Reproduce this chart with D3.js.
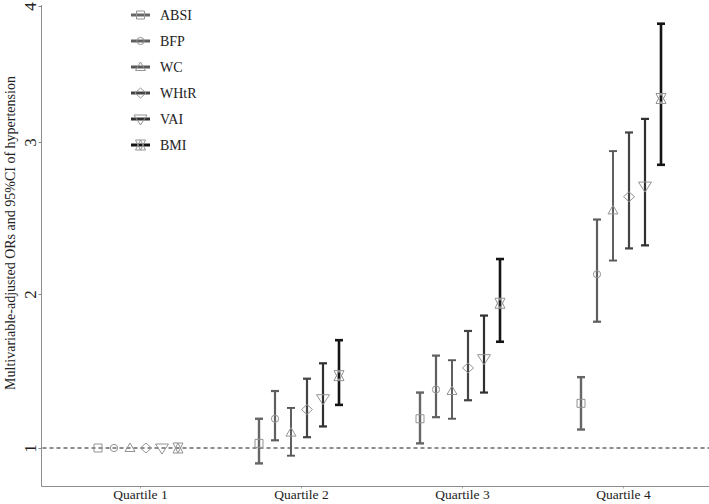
<!DOCTYPE html>
<html>
<head>
<meta charset="utf-8">
<script src="https://cdn.jsdelivr.net/npm/d3@7"></script>
<style>
  html, body { margin: 0; padding: 0; background: #fff; }
  svg { display: block; }
  text { font-family: "Liberation Serif", "Times New Roman", serif; fill: #222; }
</style>
</head>
<body>
<svg id="chart" width="709" height="504"></svg>
<script>
// ---- Data ----
const quartiles = ["Quartile 1", "Quartile 2", "Quartile 3", "Quartile 4"];
const seriesNames = ["ABSI", "BFP", "WC", "WHtR", "VAI", "BMI"];

const estABSI = [1, 1.03, 1.19, 1.29];
const loABSI  = [1, 0.90, 1.03, 1.12];
const hiABSI  = [1, 1.19, 1.36, 1.46];

const estBFP = [1, 1.19, 1.38, 2.13];
const loBFP  = [1, 1.05, 1.20, 1.82];
const hiBFP  = [1, 1.37, 1.60, 2.49];

const estWC = [1, 1.10, 1.37, 2.55];
const loWC  = [1, 0.95, 1.19, 2.22];
const hiWC  = [1, 1.26, 1.57, 2.94];

const estWHtR = [1, 1.25, 1.52, 2.64];
const loWHtR  = [1, 1.07, 1.31, 2.30];
const hiWHtR  = [1, 1.45, 1.76, 3.07];

const estVAI = [1, 1.32, 1.58, 2.71];
const loVAI  = [1, 1.14, 1.36, 2.32];
const hiVAI  = [1, 1.55, 1.86, 3.17];

const estBMI = [1, 1.47, 1.94, 3.32];
const loBMI  = [1, 1.28, 1.69, 2.85];
const hiBMI  = [1, 1.70, 2.23, 3.87];

const yTicks = [1, 2, 3, 4];
const yTitle = "Multivariable-adjusted ORs and 95%CI of hypertension";

// ---- Assemble ----
const est = [estABSI, estBFP, estWC, estWHtR, estVAI, estBMI];
const lo  = [loABSI, loBFP, loWC, loWHtR, loVAI, loBMI];
const hi  = [hiABSI, hiBFP, hiWC, hiWHtR, hiVAI, hiBMI];

const lineColors = ["#666666", "#5f5f5f", "#585858", "#444444", "#303030", "#151515"];
const lineWidths = [2.4, 2.2, 1.9, 2.2, 2.2, 2.6];
const markerColor = "#939393";

const svg = d3.select("#chart");

const x = d3.scalePoint().domain(quartiles).range([140, 623]);
const dodge = d3.scalePoint().domain(seriesNames).range([-42, 38]);
const y = d3.scaleLinear().domain([1, 2, 3, 4]).range([448, 294, 142, 6]);

const axisLeftX = 41.5, axisBottomY = 486.5;

// Marker paths
function markerPath(name) {
  const p = d3.path();
  if (name === "ABSI") {
    p.rect(-4, -4, 8, 8);
  } else if (name === "BFP") {
    p.moveTo(3.6, 0); p.arc(0, 0, 3.6, 0, 2 * Math.PI);
  } else if (name === "WC") {
    p.moveTo(0, -5); p.lineTo(5, 3.5); p.lineTo(-5, 3.5); p.closePath();
  } else if (name === "WHtR") {
    p.moveTo(0, -5); p.lineTo(5.5, 0); p.lineTo(0, 5); p.lineTo(-5.5, 0); p.closePath();
  } else if (name === "VAI") {
    p.moveTo(-6.5, -4); p.lineTo(6.5, -4); p.lineTo(0, 6); p.closePath();
  } else {
    p.moveTo(0, -5); p.lineTo(5, 5); p.lineTo(-5, 5); p.closePath();
    p.moveTo(0, 5); p.lineTo(5, -5); p.lineTo(-5, -5); p.closePath();
  }
  return p.toString();
}

// Axes
const yAxis = d3.axisLeft(y).tickValues(yTicks).tickSize(3).tickFormat(d3.format("d"));
const gy = svg.append("g").attr("transform", `translate(${axisLeftX},0)`).call(yAxis);
gy.select(".domain").remove();
gy.selectAll(".tick line").attr("stroke", "#888");
gy.selectAll(".tick text")
  .attr("x", null).attr("dy", null)
  .attr("transform", "translate(-6,0) rotate(-90)")
  .attr("text-anchor", "middle")
  .style("font-family", "'Liberation Serif', 'Times New Roman', serif")
  .style("font-size", "17px")
  .style("fill", "#222");

const xAxis = d3.axisBottom(x).tickSize(2).tickPadding(1);
const gx = svg.append("g").attr("transform", `translate(0,${axisBottomY})`).call(xAxis);
gx.select(".domain").remove();
gx.selectAll(".tick line").attr("stroke", "#aaa");
gx.selectAll(".tick text")
  .style("font-family", "'Liberation Serif', 'Times New Roman', serif")
  .style("font-size", "13.5px")
  .style("fill", "#222");

// axis lines
svg.append("line").attr("x1", axisLeftX).attr("x2", axisLeftX)
  .attr("y1", y(4) - 1).attr("y2", axisBottomY).attr("stroke", "#8c8c8c").attr("stroke-width", 1);
svg.append("line").attr("x1", axisLeftX).attr("x2", 709)
  .attr("y1", axisBottomY).attr("y2", axisBottomY).attr("stroke", "#8c8c8c").attr("stroke-width", 1);

// reference line
svg.append("line").attr("x1", axisLeftX + 1).attr("x2", 709)
  .attr("y1", y(1)).attr("y2", y(1))
  .attr("stroke", "#1a1a1a").attr("stroke-width", 1).attr("stroke-dasharray", "4,3");

// y title
svg.append("text")
  .attr("transform", `translate(15,233) rotate(-90)`)
  .attr("text-anchor", "middle")
  .style("font-size", "14px")
  .text(yTitle);

// Error bars & markers
const capHalf = 4;
seriesNames.forEach((name, j) => {
  const g = svg.append("g");
  quartiles.forEach((q, i) => {
    const cx = x(q) + dodge(name);
    if (hi[j][i] !== lo[j][i]) {
      g.append("line").attr("x1", cx).attr("x2", cx)
        .attr("y1", y(hi[j][i])).attr("y2", y(lo[j][i]))
        .attr("stroke", lineColors[j]).attr("stroke-width", lineWidths[j]);
      [hi[j][i], lo[j][i]].forEach(v => {
        g.append("line").attr("x1", cx - capHalf).attr("x2", cx + capHalf)
          .attr("y1", y(v)).attr("y2", y(v))
          .attr("stroke", lineColors[j]).attr("stroke-width", lineWidths[j]);
      });
    }
    g.append("path").attr("d", markerPath(name))
      .attr("transform", `translate(${cx},${y(est[j][i])})`)
      .attr("fill", "none").attr("stroke", markerColor).attr("stroke-width", 1);
  });
});

// Legend
const legend = svg.append("g");
seriesNames.forEach((name, j) => {
  const ly = 15 + 26 * j;
  legend.append("line").attr("x1", 131).attr("x2", 150).attr("y1", ly).attr("y2", ly)
    .attr("stroke", lineColors[j]).attr("stroke-width", 3);
  legend.append("path").attr("d", markerPath(name))
    .attr("transform", `translate(140.5,${ly})`)
    .attr("fill", "none").attr("stroke", markerColor).attr("stroke-width", 1);
  legend.append("text").attr("x", 160).attr("y", ly + 5)
    .style("font-size", "14px").text(name);
});
</script>
</body>
</html>
